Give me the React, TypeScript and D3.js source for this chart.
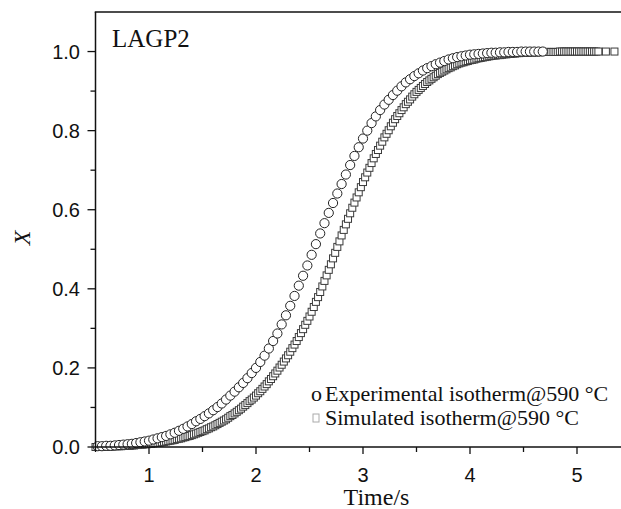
import React from 'react';
import * as d3 from 'd3';

// ---------- data ----------
const expTime = [
  0.52, 0.56, 0.6, 0.64, 0.68, 0.72, 0.76, 0.8, 0.84, 0.88, 0.92, 0.96,
  1.0, 1.04, 1.08, 1.12, 1.16, 1.2, 1.24, 1.28, 1.32, 1.36, 1.4, 1.44, 1.48,
  1.52, 1.56, 1.6, 1.64, 1.68, 1.72, 1.76, 1.8, 1.84, 1.88, 1.92, 1.96,
  2.0, 2.04, 2.08, 2.12, 2.16, 2.2, 2.24, 2.28, 2.32, 2.36, 2.4, 2.44, 2.48,
  2.52, 2.56, 2.6, 2.64, 2.68, 2.72, 2.76, 2.8, 2.84, 2.88, 2.92, 2.96,
  3.0, 3.04, 3.08, 3.12, 3.16, 3.2, 3.24, 3.28, 3.32, 3.36, 3.4, 3.44, 3.48,
  3.52, 3.56, 3.6, 3.64, 3.68, 3.72, 3.76, 3.8, 3.84, 3.88, 3.92, 3.96,
  4.0, 4.04, 4.08, 4.12, 4.16, 4.2, 4.24, 4.28, 4.32, 4.36, 4.4, 4.44, 4.48,
  4.52, 4.56, 4.6, 4.64, 4.68,
];
const expX = [
  0.002, 0.002, 0.003, 0.003, 0.004, 0.005, 0.006, 0.007, 0.008, 0.01, 0.012, 0.014,
  0.016, 0.019, 0.022, 0.025, 0.028, 0.032, 0.036, 0.041, 0.046, 0.052, 0.058, 0.065, 0.071,
  0.078, 0.085, 0.093, 0.101, 0.11, 0.12, 0.13, 0.14, 0.151, 0.162, 0.174, 0.187,
  0.2, 0.215, 0.231, 0.249, 0.268, 0.287, 0.31, 0.333, 0.357, 0.382, 0.408, 0.433, 0.459,
  0.486, 0.513, 0.54, 0.566, 0.592, 0.617, 0.641, 0.665, 0.689, 0.713, 0.736, 0.758,
  0.78, 0.8, 0.819, 0.836, 0.852, 0.866, 0.878, 0.89, 0.901, 0.912, 0.922, 0.93, 0.938,
  0.945, 0.952, 0.958, 0.963, 0.968, 0.972, 0.976, 0.98, 0.983, 0.986, 0.988, 0.99,
  0.992, 0.993, 0.994, 0.995, 0.996, 0.997, 0.997, 0.998, 0.998, 0.999, 0.999, 0.999, 1.0,
  1.0, 1.0, 1.0, 1.0, 1.0,
];

const simTime = [
  0.5, 0.52, 0.54, 0.56, 0.58, 0.6, 0.62, 0.64, 0.66, 0.68,
  0.7, 0.72, 0.74, 0.76, 0.78, 0.8, 0.82, 0.84, 0.86, 0.88,
  0.9, 0.92, 0.94, 0.96, 0.98, 1.0, 1.02, 1.04, 1.06, 1.08,
  1.1, 1.12, 1.14, 1.16, 1.18, 1.2, 1.22, 1.24, 1.26, 1.28,
  1.3, 1.32, 1.34, 1.36, 1.38, 1.4, 1.42, 1.44, 1.46, 1.48,
  1.5, 1.52, 1.54, 1.56, 1.58, 1.6, 1.62, 1.64, 1.66, 1.68,
  1.7, 1.72, 1.74, 1.76, 1.78, 1.8, 1.82, 1.84, 1.86, 1.88,
  1.9, 1.92, 1.94, 1.96, 1.98, 2.0, 2.02, 2.04, 2.06, 2.08,
  2.1, 2.12, 2.14, 2.16, 2.18, 2.2, 2.22, 2.24, 2.26, 2.28,
  2.3, 2.32, 2.34, 2.36, 2.38, 2.4, 2.42, 2.44, 2.46, 2.48,
  2.5, 2.52, 2.54, 2.56, 2.58, 2.6, 2.62, 2.64, 2.66, 2.68,
  2.7, 2.72, 2.74, 2.76, 2.78, 2.8, 2.82, 2.84, 2.86, 2.88,
  2.9, 2.92, 2.94, 2.96, 2.98, 3.0, 3.02, 3.04, 3.06, 3.08,
  3.1, 3.12, 3.14, 3.16, 3.18, 3.2, 3.22, 3.24, 3.26, 3.28,
  3.3, 3.32, 3.34, 3.36, 3.38, 3.4, 3.42, 3.44, 3.46, 3.48,
  3.5, 3.52, 3.54, 3.56, 3.58, 3.6, 3.62, 3.64, 3.66, 3.68,
  3.7, 3.72, 3.74, 3.76, 3.78, 3.8, 3.82, 3.84, 3.86, 3.88,
  3.9, 3.92, 3.94, 3.96, 3.98, 4.0, 4.02, 4.04, 4.06, 4.08,
  4.1, 4.12, 4.14, 4.16, 4.18, 4.2, 4.22, 4.24, 4.26, 4.28,
  4.3, 4.32, 4.34, 4.36, 4.38, 4.4, 4.42, 4.44, 4.46, 4.48,
  4.5, 4.52, 4.54, 4.56, 4.58, 4.6, 4.62, 4.64, 4.66, 4.68,
  4.7, 4.72, 4.74, 4.76, 4.78, 4.8, 4.82, 4.84, 4.86, 4.88,
  4.9, 4.92, 4.94, 4.96, 4.98, 5.0, 5.02, 5.04, 5.06, 5.08,
  5.1, 5.12, 5.14, 5.16, 5.18, 5.2, 5.27, 5.35,
];
const simX = [
  0.0, 0.0, 0.0, 0.001, 0.001, 0.001, 0.001, 0.001, 0.002, 0.002,
  0.002, 0.002, 0.002, 0.003, 0.003, 0.003, 0.003, 0.004, 0.004, 0.005,
  0.005, 0.006, 0.006, 0.007, 0.007, 0.008, 0.008, 0.009, 0.01, 0.01,
  0.011, 0.012, 0.013, 0.014, 0.015, 0.016, 0.017, 0.018, 0.02, 0.021,
  0.022, 0.024, 0.025, 0.027, 0.028, 0.03, 0.032, 0.034, 0.036, 0.038,
  0.04, 0.042, 0.045, 0.047, 0.05, 0.052, 0.055, 0.058, 0.061, 0.064,
  0.067, 0.07, 0.074, 0.078, 0.081, 0.085, 0.089, 0.093, 0.097, 0.102,
  0.106, 0.111, 0.116, 0.12, 0.125, 0.13, 0.136, 0.141, 0.147, 0.153,
  0.159, 0.166, 0.172, 0.179, 0.186, 0.193, 0.201, 0.208, 0.216, 0.224,
  0.232, 0.241, 0.25, 0.259, 0.268, 0.278, 0.288, 0.298, 0.309, 0.319,
  0.33, 0.342, 0.354, 0.367, 0.379, 0.392, 0.406, 0.42, 0.434, 0.448,
  0.462, 0.477, 0.491, 0.506, 0.52, 0.535, 0.549, 0.563, 0.577, 0.591,
  0.605, 0.618, 0.631, 0.644, 0.657, 0.67, 0.682, 0.694, 0.706, 0.718,
  0.73, 0.741, 0.751, 0.762, 0.772, 0.783, 0.792, 0.801, 0.811, 0.82,
  0.829, 0.837, 0.844, 0.852, 0.859, 0.867, 0.873, 0.879, 0.886, 0.892,
  0.898, 0.903, 0.908, 0.913, 0.918, 0.923, 0.927, 0.931, 0.935, 0.939,
  0.943, 0.946, 0.949, 0.952, 0.955, 0.958, 0.96, 0.963, 0.965, 0.968,
  0.97, 0.972, 0.973, 0.975, 0.976, 0.978, 0.979, 0.98, 0.982, 0.983,
  0.984, 0.985, 0.986, 0.987, 0.988, 0.989, 0.99, 0.99, 0.991, 0.991,
  0.992, 0.993, 0.993, 0.994, 0.994, 0.995, 0.995, 0.996, 0.996, 0.997,
  0.997, 0.997, 0.997, 0.998, 0.998, 0.998, 0.998, 0.998, 0.999, 0.999,
  0.999, 0.999, 0.999, 0.999, 0.999, 0.999, 0.999, 1.0, 1.0, 1.0,
  1.0, 1.0, 1.0, 1.0, 1.0, 1.0, 1.0, 1.0, 1.0, 1.0,
  1.0, 1.0, 1.0, 1.0, 1.0, 1.0, 1.0, 1.0,
];

const xMajorTicks = [1, 2, 3, 4, 5];
const xMinorTicks = [0.5, 1.5, 2.5, 3.5, 4.5];
const yMajorTicks = [0, 0.2, 0.4, 0.6, 0.8, 1.0];
const yMinorTicks = [0.1, 0.3, 0.5, 0.7, 0.9];
const legendLabels = ['Experimental isotherm@590 °C', 'Simulated isotherm@590 °C'];
const sampleLabel = 'LAGP2';
const xTitle = 'Time/s';
const yTitle = 'X';

const SERIF = '"Liberation Serif", "Times New Roman", serif';
const SANS = '"Liberation Sans", Arial, Helvetica, sans-serif';

export default function App() {
  const W = 621;
  const H = 509;
  const left = 95.5;
  const right = 621;
  const top = 12;
  const bottom = 447;

  const x = d3.scaleLinear().domain([0.5, 5.4]).range([95.5, 619.8]);
  const y = d3.scaleLinear().domain([0, 1.1]).range([bottom, top]);
  const fy = d3.format('.1f');
  const fx = d3.format('d');

  const expPts = expTime.map((t, i) => [t, expX[i]]);
  const simPts = simTime.map((t, i) => [t, simX[i]]);
  const sq = 7;

  return (
    <svg
      width={W}
      height={H}
      viewBox={`0 0 ${W} ${H}`}
      style={{ position: 'absolute', left: 0, top: 0, background: '#fff' }}
    >
      <rect x={0} y={0} width={W} height={H} fill="#fff" />

      {/* simulated: squares */}
      <g fill="#fff" stroke="#3a3a3a" strokeWidth={1}>
        {simPts.map((d, i) => (
          <rect key={i} x={x(d[0]) - sq / 2} y={y(d[1]) - sq / 2} width={sq} height={sq} />
        ))}
      </g>

      {/* experimental: circles */}
      <g fill="#fff" stroke="#222" strokeWidth={1}>
        {expPts.map((d, i) => (
          <circle key={i} cx={x(d[0])} cy={y(d[1])} r={4.6} />
        ))}
      </g>

      {/* frame */}
      <g stroke="#111" strokeWidth={1.5} fill="none">
        <line x1={left} y1={top} x2={left} y2={bottom} />
        <line x1={left - 0.75} y1={bottom} x2={right} y2={bottom} />
        <line x1={left - 0.75} y1={top} x2={right} y2={top} />
      </g>

      {/* ticks */}
      <g stroke="#111" strokeWidth={1.3}>
        {yMajorTicks.map((v) => (
          <line key={'ym' + v} x1={left - 8} x2={left} y1={y(v)} y2={y(v)} />
        ))}
        {yMinorTicks.map((v) => (
          <line key={'yn' + v} x1={left - 5} x2={left} y1={y(v)} y2={y(v)} />
        ))}
        {xMajorTicks.map((v) => (
          <line key={'xm' + v} x1={x(v)} x2={x(v)} y1={bottom} y2={bottom + 7} />
        ))}
        {xMinorTicks.map((v) => (
          <line key={'xn' + v} x1={x(v)} x2={x(v)} y1={bottom} y2={bottom + 5} />
        ))}
      </g>

      {/* tick labels */}
      <g fontFamily={SANS} fontSize={20} fill="#111">
        {yMajorTicks.map((v) => (
          <text key={'yl' + v} x={80} y={y(v)} dy="0.36em" textAnchor="end">
            {fy(v)}
          </text>
        ))}
        {xMajorTicks.map((v) => (
          <text key={'xl' + v} x={x(v)} y={482} textAnchor="middle">
            {fx(v)}
          </text>
        ))}
      </g>

      {/* titles */}
      <text x={376.5} y={505} fontFamily={SERIF} fontSize={24} textAnchor="middle" fill="#111">
        {xTitle}
      </text>
      <text
        transform={`translate(30,238) rotate(-90)`}
        fontFamily={SERIF}
        fontStyle="italic"
        fontSize={24}
        textAnchor="middle"
        fill="#111"
      >
        {yTitle}
      </text>
      <text x={112} y={47} fontFamily={SERIF} fontSize={25} fill="#111">
        {sampleLabel}
      </text>

      {/* legend */}
      <g fontFamily={SERIF} fontSize={22} fill="#111">
        <text x={311} y={401}>o</text>
        <text x={325} y={401}>{legendLabels[0]}</text>
        <rect x={313} y={414} width={6} height={8} fill="#fff" stroke="#aaa" strokeWidth={1} />
        <text x={325} y={425}>{legendLabels[1]}</text>
      </g>
    </svg>
  );
}
